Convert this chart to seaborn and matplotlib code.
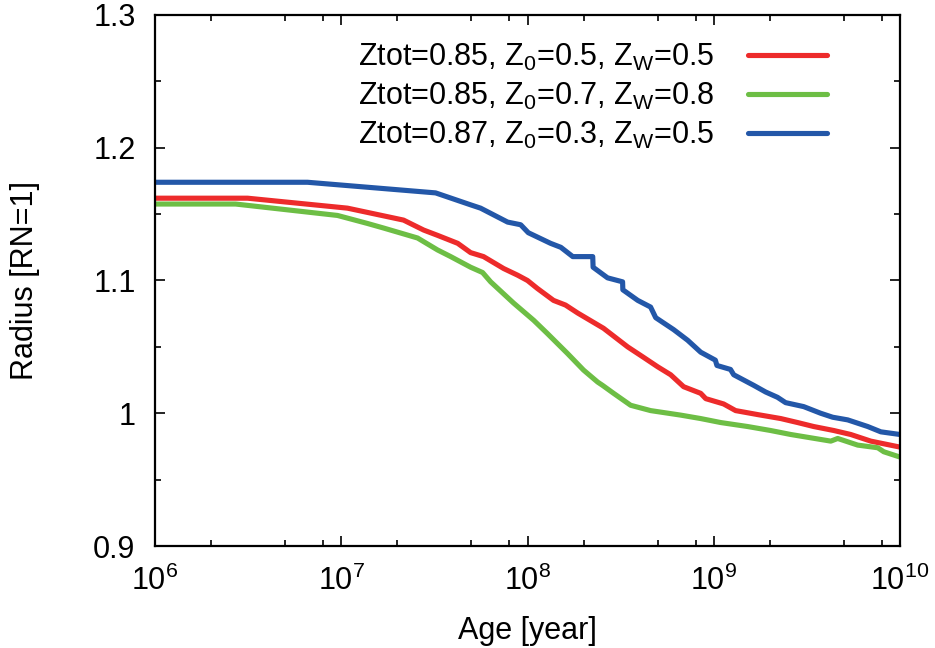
import numpy as np
import pandas as pd
import matplotlib
matplotlib.use("Agg")
import matplotlib.pyplot as plt
import matplotlib.ticker as mticker
import seaborn as sns

sns.set_theme(style="ticks")
plt.rcParams["font.family"] = ["Liberation Sans", "DejaVu Sans"]
plt.rcParams["mathtext.fontset"] = "custom"
plt.rcParams["mathtext.rm"] = "Liberation Sans"
plt.rcParams["mathtext.it"] = "Liberation Sans:italic"
plt.rcParams["mathtext.bf"] = "Liberation Sans:bold"
plt.rcParams["text.color"] = "black"
plt.rcParams["axes.labelcolor"] = "black"

labels = [
    r"Ztot=0.85, Z$_\mathregular{0}$=0.5, Z$_\mathregular{W}$=0.5",
    r"Ztot=0.85, Z$_\mathregular{0}$=0.7, Z$_\mathregular{W}$=0.8",
    r"Ztot=0.87, Z$_\mathregular{0}$=0.3, Z$_\mathregular{W}$=0.5",
]
colors = ["#ED2B2B", "#6DBE45", "#2357A8"]

# red: Ztot=0.85, Z0=0.5, Zw=0.5
age_red = [1e6, 3.14e6, 1.08e7, 2.16e7, 2.77e7, 3.29e7, 4.22e7, 4.95e7, 5.81e7,
           7.45e7, 8.85e7, 1.0e8, 1.13e8, 1.38e8, 1.60e8, 1.86e8, 2.56e8, 3.45e8,
           4.21e8, 5.0e8, 5.87e8, 6.89e8, 8.51e8, 9.06e8, 1.13e9, 1.31e9, 1.72e9,
           2.29e9, 2.82e9, 3.44e9, 4.41e9, 5.44e9, 6.97e9, 1e10]
rad_red = [1.162, 1.162, 1.1545, 1.1455, 1.138, 1.134, 1.128, 1.121, 1.118,
           1.109, 1.104, 1.100, 1.094, 1.085, 1.0815, 1.0755, 1.064, 1.050,
           1.042, 1.035, 1.029, 1.020, 1.015, 1.011, 1.007, 1.002, 0.999,
           0.996, 0.993, 0.990, 0.987, 0.984, 0.979, 0.9745]

# green: Ztot=0.85, Z0=0.7, Zw=0.8
age_green = [1e6, 2.71e6, 9.55e6, 1.38e7, 1.69e7, 2.57e7, 3.29e7, 3.87e7, 4.95e7,
             5.74e7, 6.34e7, 8.42e7, 1.08e8, 1.28e8, 1.64e8, 2.0e8, 2.38e8, 2.53e8,
             2.90e8, 3.58e8, 4.58e8, 6.64e8, 8.51e8, 1.09e9, 1.52e9, 2.02e9, 2.59e9,
             4.25e9, 4.63e9, 5.93e9, 7.60e9, 8.18e9, 1e10]
rad_green = [1.1576, 1.1576, 1.149, 1.143, 1.1395, 1.132, 1.123, 1.118, 1.110,
             1.106, 1.099, 1.083, 1.070, 1.060, 1.045, 1.0325, 1.0235, 1.021,
             1.015, 1.006, 1.002, 0.9986, 0.996, 0.993, 0.990, 0.987, 0.984,
             0.979, 0.981, 0.976, 0.974, 0.971, 0.967]

# blue: Ztot=0.87, Z0=0.3, Zw=0.5
age_blue = [1e6, 6.59e6, 3.21e7, 4.95e7, 5.6e7, 7.82e7, 9.19e7, 1.01e8, 1.33e8,
            1.51e8, 1.75e8, 2.24e8, 2.25e8, 2.69e8, 3.24e8, 3.25e8, 3.91e8, 4.58e8,
            4.88e8, 6.09e8, 7.24e8, 8.51e8, 1.02e9, 1.04e9, 1.23e9, 1.28e9, 1.64e9,
            1.90e9, 2.20e9, 2.43e9, 3.04e9, 3.75e9, 4.35e9, 5.24e9, 6.71e9, 7.89e9,
            1e10]
rad_blue = [1.174, 1.174, 1.166, 1.157, 1.1545, 1.144, 1.142, 1.136, 1.128,
            1.125, 1.118, 1.118, 1.110, 1.102, 1.099, 1.093, 1.085, 1.080,
            1.072, 1.063, 1.055, 1.046, 1.040, 1.036, 1.033, 1.029, 1.021,
            1.016, 1.012, 1.008, 1.005, 1.000, 0.997, 0.995, 0.990, 0.986,
            0.984]

df = pd.concat([
    pd.DataFrame({"age": age_red, "radius": rad_red, "model": labels[0]}),
    pd.DataFrame({"age": age_green, "radius": rad_green, "model": labels[1]}),
    pd.DataFrame({"age": age_blue, "radius": rad_blue, "model": labels[2]}),
], ignore_index=True)

fig = plt.figure(figsize=(9.35, 6.48), dpi=100)
ax = fig.add_axes([155 / 935, 1 - 546 / 648, 745 / 935, 531 / 648])

sns.lineplot(data=df, x="age", y="radius", hue="model", hue_order=labels,
             palette=dict(zip(labels, colors)), sort=False, estimator=None,
             linewidth=3.7, ax=ax)

ax.set_xscale("log")
ax.set_xlim(1e6, 1e10)
ax.set_ylim(0.9, 1.3)
ax.xaxis.set_major_locator(mticker.LogLocator(base=10, numticks=10))
ax.xaxis.set_minor_locator(mticker.LogLocator(base=10, subs=[2, 5, 8], numticks=10))
ax.xaxis.set_minor_formatter(mticker.NullFormatter())
ax.xaxis.set_major_formatter(mticker.FuncFormatter(
    lambda v, p: r"10$^{\mathregular{%d}}$" % round(np.log10(v))))
ax.yaxis.set_major_locator(mticker.MultipleLocator(0.1))
ax.yaxis.set_minor_locator(mticker.MultipleLocator(0.05))
ax.yaxis.set_major_formatter(mticker.FuncFormatter(lambda v, p: "%g" % round(v, 2)))

ax.tick_params(which="both", direction="in", top=True, right=True, width=1.2,
               labelsize=22, colors="black")
ax.tick_params(which="major", length=7, pad=14)
ax.tick_params(which="minor", length=4)
for sp in ax.spines.values():
    sp.set_linewidth(1.6)
    sp.set_color("black")

ax.set_xlabel("Age [year]", fontsize=22, labelpad=14)
ax.set_ylabel("Radius [RN=1]", fontsize=22, labelpad=38)

handles, _ = ax.get_legend_handles_labels()
ax.legend(handles, labels, loc="upper right", bbox_to_anchor=(827 / 935, 1 - 42 / 648),
          bbox_transform=fig.transFigure, frameon=False, markerfirst=False,
          fontsize=22, handlelength=2.6, handletextpad=1.1, labelspacing=0.25,
          borderpad=0, borderaxespad=0)

fig.savefig("out.png", dpi=100)
